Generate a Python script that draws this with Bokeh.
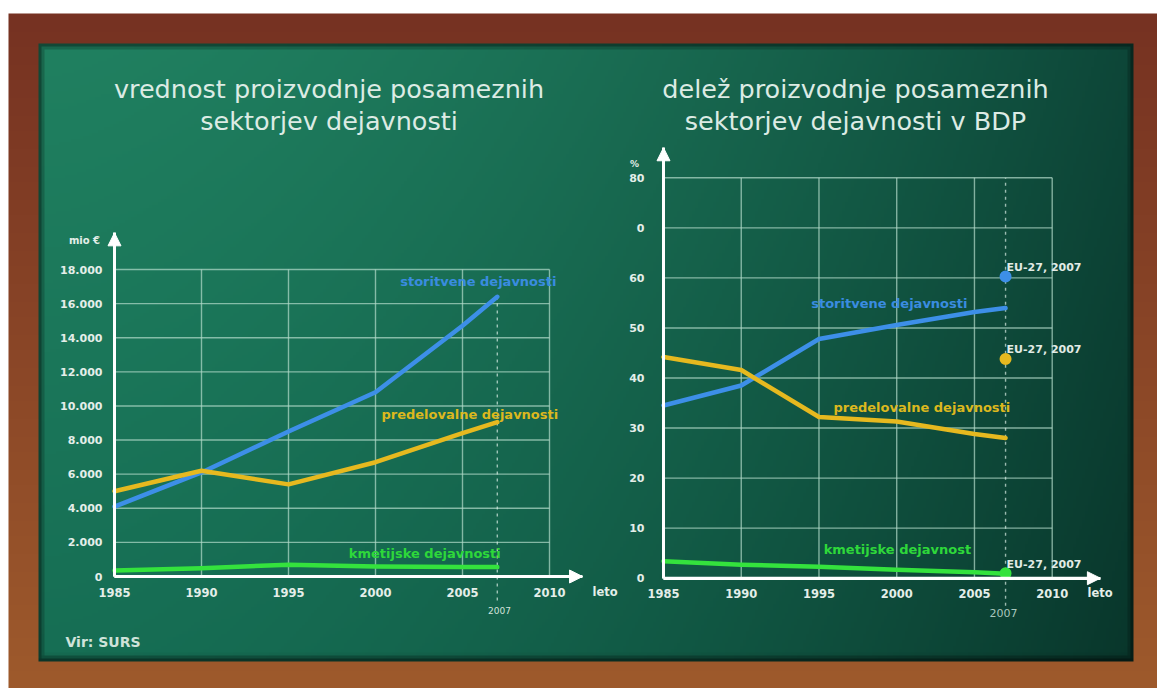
import numpy as np
from bokeh.plotting import figure
from bokeh.models import Range1d, LinearAxis, FixedTicker, Arrow, NormalHead, Label
from bokeh.embed import file_html
from bokeh.resources import INLINE
from bokeh.core.properties import value

# ---------------- data ----------------
years = [1985, 1990, 1995, 2000, 2005, 2007]
x_ticks = [1985, 1990, 1995, 2000, 2005, 2010]
x_tick_labels = ["1985", "1990", "1995", "2000", "2005", "2010"]

left_y_ticks = [0, 2000, 4000, 6000, 8000, 10000, 12000, 14000, 16000, 18000]
left_y_tick_labels = ["0", "2.000", "4.000", "6.000", "8.000", "10.000",
                      "12.000", "14.000", "16.000", "18.000"]
val_storitvene = [4100, 6100, 8500, 10800, 14700, 16400]
val_predelovalne = [5000, 6200, 5400, 6700, 8400, 9050]
val_kmetijske = [350, 490, 690, 590, 560, 550]

right_y_ticks = [0, 10, 20, 30, 40, 50, 60, 70, 80]
right_y_tick_labels = ["0", "10", "20", "30", "40", "50", "60", "0", "80"]
sh_storitvene = [34.5, 38.5, 47.8, 50.6, 53.2, 54.0]
sh_predelovalne = [44.2, 41.6, 32.2, 31.3, 28.8, 28.0]
sh_kmetijske = [3.4, 2.7, 2.3, 1.7, 1.2, 0.9]

eu_year = 2007
eu_values = [60.3, 43.8, 1.0]
eu_label = "EU-27, 2007"

names_left = ["storitvene dejavnosti", "predelovalne dejavnosti", "kmetijske dejavnosti"]
names_right = ["storitvene dejavnosti", "predelovalne dejavnosti", "kmetijske dejavnost"]
title_left = ["vrednost proizvodnje posameznih", "sektorjev dejavnosti"]
title_right = ["delež proizvodnje posameznih", "sektorjev dejavnosti v BDP"]
unit_left = "mio €"
unit_right = "%"
x_name = "leto"
source = "Vir:  SURS"
marker_year = 2007

# ---------------- layout helpers ----------------
W, H = 1157, 688


def cx(xr):
    return xr


def cy(yr):
    return H - yr


def lin_range(p0, v0, p1, v1, total):
    k = (p1 - p0) / (v1 - v0)
    start = v0 - p0 / k
    return Range1d(start=start, end=start + total / k)


BLUE, YEL, GRN = "#3d8fe8", "#e6b91f", "#34e23d"
TXT = "#e4eee9"
GRID = "#b4dccb"

p = figure(width=W, height=H, x_range=Range1d(0, W), y_range=Range1d(0, H),
           output_backend="svg", toolbar_location=None,
           x_axis_location=None, y_axis_location=None, min_border=0)
p.grid.visible = False
p.outline_line_color = None
p.background_fill_color = "white"
p.border_fill_color = "white"

p.extra_x_ranges = {
    "L": lin_range(cx(114), 1985, cx(549), 2010, W),
    "R": lin_range(cx(663), 1985, cx(1051.7), 2010, W),
}
p.extra_y_ranges = {
    "L": lin_range(cy(576), 0, cy(269), 18000, H),
    "R": lin_range(cy(577.7), 0, cy(177.3), 80, H),
}

# ---------------- background (wood frame + board gradient) ----------------
step = 3
x_left = 8
nx = (W - x_left) // step + 1
ny = (H - 13) // step + 1
xr = x_left + (np.arange(nx) + 0.5) * step
yr = 13 + (np.arange(ny) + 0.5) * step
X, Y = np.meshgrid(xr, yr)
bx0, bx1, by0, by1 = 38, 1133, 43, 660
inside = (X >= bx0) & (X <= bx1) & (Y >= by0) & (Y <= by1)

t = np.clip((X - bx0) / (bx1 - bx0), 0, 1) ** 1.7
s = np.clip((Y - by0) / (by1 - by0), 0, 1)
c_tl = np.array([32, 128, 96.0])
c_tr = np.array([13, 70, 56.0])
c_bl = np.array([22, 110, 84.0])
c_br = np.array([9, 54, 43.0])
top = c_tl * (1 - t[..., None]) + c_tr * t[..., None]
bot = c_bl * (1 - t[..., None]) + c_br * t[..., None]
board = top * (1 - s[..., None]) + bot * s[..., None]
d = np.minimum.reduce([X - bx0, bx1 - X, Y - by0, by1 - Y])
shade = 0.45 + 0.55 * np.clip(d / 7.0, 0, 1)
board = board * shade[..., None]

sf = np.clip((Y - 13) / (688 - 13), 0, 1)
f_top = np.array([118, 50, 34.0])
f_bot = np.array([158, 90, 44.0])
frame = f_top * (1 - sf[..., None]) + f_bot * sf[..., None]
rgb = np.where(inside[..., None], board, frame)

img = np.empty((ny, nx), dtype=np.uint32)
view = img.view(dtype=np.uint8).reshape((ny, nx, 4))
view[..., :3] = np.clip(rgb, 0, 255).astype(np.uint8)
view[..., 3] = 255
img = img[::-1]
p.image_rgba(image=[img], x=cx(x_left), y=cy(13) - ny * step, dw=nx * step, dh=ny * step)

# ---------------- chart builder ----------------
def draw_chart(rn, y_ticks, y_labels, series, names, name_pos, y_tip, x_tip,
               y_standoff, dash_top, dash_bottom):
    kw = dict(x_range_name=rn, y_range_name=rn)
    ymax = y_ticks[-1]
    # grid
    p.segment(x0=x_ticks[1:], y0=[0] * (len(x_ticks) - 1), x1=x_ticks[1:],
              y1=[ymax] * (len(x_ticks) - 1), line_color=GRID, line_alpha=0.7,
              line_width=1.4, **kw)
    p.segment(x0=[x_ticks[0]] * (len(y_ticks) - 1), y0=y_ticks[1:],
              x1=[x_ticks[-1]] * (len(y_ticks) - 1), y1=y_ticks[1:],
              line_color=GRID, line_alpha=0.7, line_width=1.4, **kw)
    # 2007 marker line
    p.segment(x0=[marker_year], y0=[dash_bottom], x1=[marker_year], y1=[dash_top],
              line_color="#d8ece4", line_alpha=0.7, line_width=1.4,
              line_dash="3 4", **kw)
    # series
    for vals, col in zip(series, [BLUE, YEL, GRN]):
        p.line(years, vals, line_color=col, line_width=4.5, line_join="round",
               line_cap="round", **kw)
    # series names
    for (nm, (xx, yy, al)), col in zip(zip(names, name_pos), ["#3a8ce0", "#dcb81e", "#2ed83a"]):
        p.text(x=[xx], y=[yy], text=[nm], text_align=al, text_baseline="middle",
               text_font=value("DejaVu Sans"), text_font_style="bold",
               text_font_size="13px", text_color=col, **kw)
    # axes
    yax = LinearAxis(fixed_location=x_ticks[0], bounds=(0, y_tip),
                     ticker=FixedTicker(ticks=y_ticks),
                     major_label_overrides={tk: lb for tk, lb in zip(y_ticks, y_labels)},
                     axis_line_color="white", axis_line_width=3,
                     major_tick_line_color=None, minor_tick_line_color=None,
                     major_label_standoff=y_standoff,
                     major_label_text_font="DejaVu Sans",
                     major_label_text_font_style="bold",
                     major_label_text_font_size="11px",
                     major_label_text_color=TXT, **kw)
    p.add_layout(yax, "left")
    xax = LinearAxis(fixed_location=0, bounds=(x_ticks[0], x_tip),
                     ticker=FixedTicker(ticks=x_ticks),
                     major_label_overrides={tk: lb for tk, lb in zip(x_ticks, x_tick_labels)},
                     axis_line_color="white", axis_line_width=3,
                     major_tick_line_color=None, minor_tick_line_color=None,
                     major_label_standoff=5,
                     major_label_text_font="DejaVu Sans",
                     major_label_text_font_style="bold",
                     major_label_text_font_size="11.5px",
                     major_label_text_color=TXT, **kw)
    p.add_layout(xax, "below")
    for (xs, ys, xe, ye) in [(x_ticks[0], 0, x_ticks[0], y_tip), (x_ticks[0], 0, x_tip, 0)]:
        p.add_layout(Arrow(end=NormalHead(size=13, fill_color="white", line_color="white"),
                           x_start=xs, y_start=ys, x_end=xe, y_end=ye,
                           line_color="white", line_width=3, **kw))


draw_chart("L", left_y_ticks, left_y_tick_labels,
           [val_storitvene, val_predelovalne, val_kmetijske], names_left,
           [(2010.4, 17300, "right"), (2010.5, 9500, "right"), (2007.2, 1350, "right")],
           y_tip=20150, x_tip=2011.9, y_standoff=6, dash_top=16400, dash_bottom=-1400)

draw_chart("R", right_y_ticks, right_y_tick_labels,
           [sh_storitvene, sh_predelovalne, sh_kmetijske], names_right,
           [(2004.55, 54.9, "right"), (2007.3, 34.1, "right"), (1995.3, 5.7, "left")],
           y_tip=86.0, x_tip=2013.1, y_standoff=13, dash_top=80, dash_bottom=-5.5)

# EU-27 reference points
p.scatter(x=[eu_year] * 3, y=eu_values, size=12, fill_color=[BLUE, YEL, GRN],
          line_color=None, x_range_name="R", y_range_name="R")
p.text(x=[eu_year] * 3, y=eu_values, text=[eu_label] * 3, x_offset=1, y_offset=-9,
       text_align="left", text_baseline="middle", text_font=value("DejaVu Sans"),
       text_font_style="bold", text_font_size="11px", text_color="#e2ebe6",
       x_range_name="R", y_range_name="R")

# ---------------- free texts ----------------
def lab(x, y, text, size, align="center", bold=False, color=TXT, font="DejaVu Sans"):
    p.add_layout(Label(x=cx(x), y=cy(y), text=text, text_align=align,
                       text_baseline="middle", text_font=font,
                       text_font_size=size, text_font_style="bold" if bold else "normal",
                       text_color=color))


for i, line in enumerate(title_left):
    lab(328.5, 88 + 32 * i, line, "25.5px", color="#dcebe4")
for i, line in enumerate(title_right):
    lab(855, 88 + 32 * i, line, "25.5px", color="#dcebe4")

lab(84, 240, unit_left, "10px", bold=True)
lab(634, 163, unit_right, "9px", bold=True)
lab(592, 591, x_name, "11.5px", align="left", bold=True)
lab(1087, 592, x_name, "11.5px", align="left", bold=True)
lab(499, 610, str(marker_year), "9px", color="#d2e2da")
lab(1003, 612, str(marker_year), "11px", color="#a9c7bd")
lab(65, 641, source, "14px", align="left", bold=True, color="#cfe3da")

open("out.html", "w").write(file_html(p, INLINE))
